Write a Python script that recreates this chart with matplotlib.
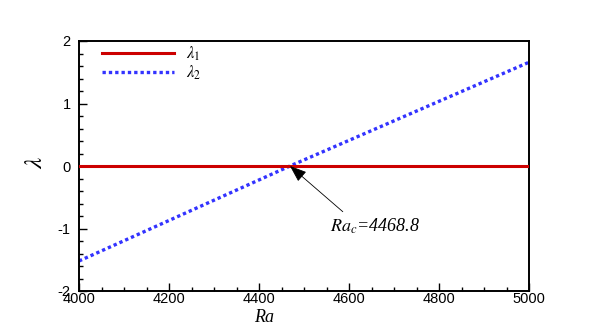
import matplotlib
matplotlib.use("Agg")
import matplotlib.pyplot as plt
import numpy as np

plt.rcParams['mathtext.fontset'] = 'stix'
plt.rcParams['font.family'] = ['Liberation Sans', 'DejaVu Sans']
plt.rcParams['axes.unicode_minus'] = False

# Data
ra = [4000, 4468.8, 5000]
lambda1 = [0.0, 0.0, 0.0]
lambda2 = [-1.52, 0.0, 1.66]
ra_c = 4468.8
x_ticks = [4000, 4200, 4400, 4600, 4800, 5000]
y_ticks = [-2, -1, 0, 1, 2]

fig = plt.figure(figsize=(6.03, 3.28), dpi=100)
ax = fig.add_axes([79/603, 37/328, 450/603, 250/328])

ax.plot(ra, lambda1, color='#cc0000', lw=2.2, label=r'$\lambda_1$', zorder=3)
ax.plot(ra, lambda2, color='#3333ff', lw=2.4, linestyle=(0, (1, 0.9)),
        label=r'$\lambda_2$', zorder=2)

ax.set_xlim(4000, 5000)
ax.set_ylim(-2, 2)
ax.set_xticks(x_ticks)
ax.set_yticks(y_ticks)
ax.set_xticks(np.arange(4000, 5001, 50), minor=True)
ax.set_yticks(np.arange(-2, 2.01, 0.2), minor=True)
ax.tick_params(which='both', direction='in', width=1, colors='black')
ax.tick_params(which='major', length=6, labelsize=10.5)
ax.tick_params(which='minor', length=3)
ax.tick_params(axis='x', pad=1)
ax.tick_params(axis='y', pad=6)
for s in ax.spines.values():
    s.set_linewidth(1.4)

fig.text(264/603, 1 - 318/328, 'Ra', ha='center', va='center',
         family='Liberation Serif', style='italic', fontsize=13)
fig.text(35/603, 1 - 162/328, r'$\lambda$', ha='center', va='center',
         fontsize=18, rotation=90)

ax.annotate(r'$Ra_c$=4468.8', xy=(ra_c, 0), xytext=(4558, -0.96),
            fontsize=13, family='Liberation Serif', style='italic',
            ha='left', va='center',
            arrowprops=dict(arrowstyle='-|>,head_length=0.8,head_width=0.3',
                            color='black', lw=0.6, shrinkA=2, shrinkB=0,
                            relpos=(0.2, 1.0)))

leg = ax.legend(loc='upper left', bbox_to_anchor=(0.018, 1.045), frameon=False,
                fontsize=12, handlelength=4.3, handletextpad=0.75,
                labelspacing=0.05)

fig.savefig('out.png', dpi=100)
